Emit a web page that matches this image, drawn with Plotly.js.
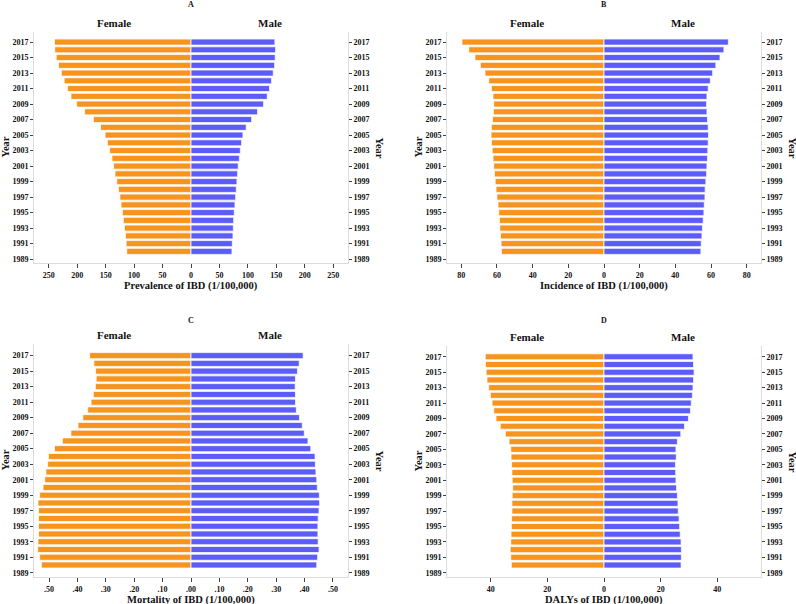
<!DOCTYPE html>
<html>
<head>
<meta charset="utf-8">
<script src="https://cdn.plot.ly/plotly-3.0.1.min.js"></script>
<style>
  body { margin: 0; background: #fff; }
  #plot { width: 796px; height: 604px; }
</style>
</head>
<body>
<div id="plot"></div>
<script>
// years shown as bars (bottom to top)
var years = [1990, 1991, 1992, 1993, 1994, 1995, 1996, 1997, 1998, 1999,
             2000, 2001, 2002, 2003, 2004, 2005, 2006, 2007, 2008, 2009,
             2010, 2011, 2012, 2013, 2014, 2015, 2016, 2017];
var yearTicks = [1989, 1991, 1993, 1995, 1997, 1999, 2001, 2003, 2005, 2007,
                 2009, 2011, 2013, 2015, 2017];

// A - prevalence
var prevFemale = [113, 114, 115.3, 117, 119, 120.6, 123, 125, 127.6, 130.5,
                  133.5, 136, 139, 143, 147, 151, 159, 171.5, 187, 201,
                  211, 217, 223, 228, 233, 237, 239.5, 240];
var prevMale = [72, 72.6, 73.8, 74.4, 75, 76, 77.3, 78.5, 79.6, 80.8,
                82, 83, 85, 86.7, 89, 91.3, 97, 106.6, 117, 127.6,
                134, 138, 141.7, 144.6, 147, 148, 148.7, 147.5];

// B - incidence
var incFemale = [57.5, 57.7, 58, 58.4, 58.6, 59, 59.4, 60, 60.5, 61,
                 61.4, 61.8, 62.2, 62.7, 63.1, 63.3, 63.1, 62.5, 62, 61.8,
                 62.2, 63.1, 64.6, 66.7, 69.3, 72.3, 75.8, 79.6];
var incMale = [54.3, 54.5, 54.9, 55.2, 55.6, 56, 56.2, 56.6, 56.7, 57.1,
               57.5, 57.7, 58, 58.2, 58.4, 58.6, 58.4, 58, 57.7, 57.5,
               57.7, 58.4, 59.6, 60.9, 62.7, 65, 67.2, 69.7];

// C - mortality
var mortFemale = [0.527, 0.533, 0.540, 0.539, 0.537, 0.537, 0.537, 0.537, 0.539, 0.533,
                  0.521, 0.515, 0.511, 0.505, 0.502, 0.481, 0.453, 0.423, 0.398, 0.381,
                  0.364, 0.352, 0.344, 0.337, 0.334, 0.336, 0.342, 0.357];
var mortMale = [0.443, 0.446, 0.451, 0.448, 0.447, 0.447, 0.448, 0.451, 0.453, 0.452,
                0.445, 0.443, 0.440, 0.438, 0.437, 0.422, 0.412, 0.399, 0.392, 0.382,
                0.371, 0.368, 0.368, 0.367, 0.368, 0.375, 0.381, 0.395];

// D - DALYs
var dalyFemale = [32.7, 32.9, 33.1, 32.9, 32.8, 32.7, 32.6, 32.5, 32.5, 32.4,
                  32.2, 32.4, 32.5, 32.6, 32.8, 32.9, 33.5, 34.8, 36.6, 38.1,
                  38.9, 39.5, 40.1, 40.7, 41.3, 41.6, 41.8, 41.9];
var dalyMale = [27.2, 27.3, 27.3, 27.2, 26.9, 26.7, 26.5, 26.2, 26.1, 25.9,
                25.6, 25.4, 25.3, 25.2, 25.5, 25.4, 25.9, 27.1, 28.4, 29.8,
                30.5, 30.8, 31.2, 31.4, 31.6, 31.8, 31.6, 31.4];

// x tick values / labels per panel
var prevTicks = [-250, -200, -150, -100, -50, 0, 50, 100, 150, 200, 250];
var prevLabels = ["250", "200", "150", "100", "50", "0", "50", "100", "150", "200", "250"];
var incTicks = [-80, -60, -40, -20, 0, 20, 40, 60, 80];
var incLabels = ["80", "60", "40", "20", "0", "20", "40", "60", "80"];
var mortTicks = [-0.5, -0.4, -0.3, -0.2, -0.1, 0, 0.1, 0.2, 0.3, 0.4, 0.5];
var mortLabels = [".50", ".40", ".30", ".20", ".10", ".00", ".10", ".20", ".30", ".40", ".50"];
var dalyTicks = [-40, -20, 0, 20, 40];
var dalyLabels = ["40", "20", "0", "20", "40"];

var FEMALE = "#F7941E";
var MALE = "#5C5CF8";
var SERIF = "Liberation Serif, Times New Roman, serif";
var W = 796, H = 604;

var panels = [
  { letter: "A", title: "Prevalence of IBD (1/100,000)", f: prevFemale, m: prevMale,
    xr: 276, tv: prevTicks, tt: prevLabels, px: [34, 348], py: [32, 263], yr: [1988.5, 2018.3], top: 0 },
  { letter: "B", title: "Incidence of IBD (1/100,000)", f: incFemale, m: incMale,
    xr: 88, tv: incTicks, tt: incLabels, px: [447, 761], py: [32, 263], yr: [1988.5, 2018.3], top: 0 },
  { letter: "C", title: "Mortality of IBD (1/100,000)", f: mortFemale, m: mortMale,
    xr: 0.553, tv: mortTicks, tt: mortLabels, px: [34, 348], py: [344, 577], yr: [1988.45, 2018.5], top: 315 },
  { letter: "D", title: "DALYs of IBD (1/100,000)", f: dalyFemale, m: dalyMale,
    xr: 55.4, tv: dalyTicks, tt: dalyLabels, px: [447, 761], py: [346, 577], yr: [1988.45, 2018.4], top: 315 }
];

var traces = [];
var layout = {
  width: W, height: H,
  margin: { l: 0, r: 0, t: 0, b: 0 },
  paper_bgcolor: "#fff",
  plot_bgcolor: "#fff",
  showlegend: false,
  barmode: "overlay",
  font: { family: SERIF, color: "#111", size: 8 },
  annotations: []
};

function ann(text, x, y, size, angle) {
  layout.annotations.push({
    text: text, xref: "paper", yref: "paper",
    x: x / W, y: 1 - y / H, xanchor: "center", yanchor: "middle",
    showarrow: false, textangle: angle || 0,
    font: { family: SERIF, size: size, color: "#111", weight: "bold" }
  });
}

panels.forEach(function (p, i) {
  var k = i + 1;
  var xs = k === 1 ? "" : String(k);
  var xid = "x" + xs, yid = "y" + xs, yRightId = "y" + (k + 4);
  var xdom = [p.px[0] / W, p.px[1] / W];
  var ydom = [1 - p.py[1] / H, 1 - p.py[0] / H];
  var tickFont = { family: SERIF, size: 8, color: "#111", weight: "bold" };

  traces.push({
    type: "bar", orientation: "h", name: "Female",
    x: p.f.map(function (v) { return -v; }), y: years,
    xaxis: xid, yaxis: yid, width: 0.78,
    marker: { color: FEMALE, line: { color: "rgba(255,255,255,0.75)", width: 1 } },
    hoverinfo: "none"
  });
  traces.push({
    type: "bar", orientation: "h", name: "Male",
    x: p.m, y: years,
    xaxis: xid, yaxis: yid, width: 0.78,
    marker: { color: MALE, line: { color: "rgba(255,255,255,0.75)", width: 1 } },
    hoverinfo: "none"
  });
  // invisible trace so the right-hand year axis gets drawn
  traces.push({
    type: "scatter", mode: "markers",
    x: years.map(function () { return 0; }), y: years,
    xaxis: xid, yaxis: yRightId,
    marker: { opacity: 0 }, hoverinfo: "none"
  });

  layout["xaxis" + xs] = {
    domain: xdom, anchor: yid, range: [-p.xr, p.xr],
    tickmode: "array", tickvals: p.tv, ticktext: p.tt,
    ticks: "outside", ticklen: 4, tickcolor: "#444", tickwidth: 1,
    showline: true, linecolor: "#dcdcdc", linewidth: 1,
    showgrid: false, zeroline: false, tickfont: tickFont
  };
  layout["yaxis" + xs] = {
    domain: ydom, anchor: xid, range: p.yr,
    tickmode: "array", tickvals: yearTicks,
    ticks: "outside", ticklen: 3, tickcolor: "#444", tickwidth: 1,
    showline: true, linecolor: "#dcdcdc", linewidth: 1,
    showgrid: false, zeroline: false, tickfont: tickFont
  };
  layout["yaxis" + (k + 4)] = {
    overlaying: yid, anchor: xid, side: "right", range: p.yr,
    tickmode: "array", tickvals: yearTicks,
    ticks: "outside", ticklen: 3, tickcolor: "#444", tickwidth: 1,
    showline: true, linecolor: "#dcdcdc", linewidth: 1,
    showgrid: false, zeroline: false, tickfont: tickFont
  };

  var cx = (p.px[0] + p.px[1]) / 2;
  ann(p.letter, cx, p.top + 5, 8);
  ann("Female", p.px[0] + 80, p.py[0] - 9, 11);
  ann("Male", p.px[0] + 236, p.py[0] - 9, 11);
  ann(p.title, cx, p.py[1] + 23, 10.5);
  ann("Year", p.px[0] - 29, (p.py[0] + p.py[1]) / 2, 10.5, -90);
  ann("Year", p.px[1] + 31, (p.py[0] + p.py[1]) / 2, 10.5, 90);
});

Plotly.newPlot("plot", traces, layout, { displayModeBar: false, staticPlot: true });
</script>
</body>
</html>
